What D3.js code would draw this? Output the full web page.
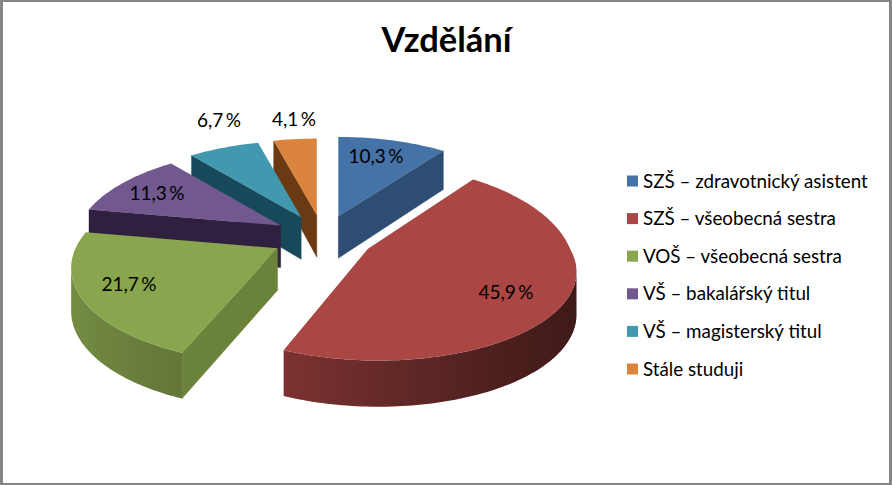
<!DOCTYPE html>
<html><head><meta charset="utf-8">
<style>html,body{margin:0;padding:0;background:#fff}svg{display:block}text{font-family:Lato,"Open Sans",sans-serif;fill:#000}</style>
<script src="https://cdn.jsdelivr.net/npm/d3@7/dist/d3.min.js"></script>
</head><body><svg id="c" width="892" height="485"></svg>
<script>
const title = "Vzdělání";
const categories = ["SZŠ – zdravotnický asistent","SZŠ – všeobecná sestra","VOŠ – všeobecná sestra","VŠ – bakalářský titul","VŠ – magisterský titul","Stále studuji"];
const values = [10.3,45.9,21.7,11.3,6.7,4.1];
const topColors = ["#4572a7","#aa4643","#89a54e","#71588f","#4198af","#db843d"];
const wallColors = ["#2e4d72","#5a2523","#6a8239","#30203f","#17495a","#6b3a12"];
const labelCenters = [[376,156],[506,292],[129,284],[157,193],[219,120],[294,119]];

const W=892,H=485, cx=323, cy=237, R=202, Ry=92, persp=.2, explode=.25, depth=42, shear=.167, nearShift=4.6, nearShear=.133, nearLift=.07;
const svg=d3.select("#c");
const defs=svg.append("defs");
svg.append("rect").attr("width",W).attr("height",H).attr("fill","#868686");
svg.append("rect").attr("x",3).attr("y",2).attr("width",W-6).attr("height",H-4).attr("fill","#fff");

const xs=d3.scaleLinear([-1,1],[-R,R]), ys=d3.scaleLinear([-1,1],[Ry,-Ry]);
const rimShade=d3.scaleLinear([-1,-.37,0,.5,1],[.86,.72,.6,.45,.35]);
const fmt=d3.formatLocale({decimal:",",thousands:" ",grouping:[3],currency:["",""]}).format(".1f");
const pie=d3.pie().sort(null).value(d=>d)(values);
const line=d3.line();

const proj=(a,r)=>{const u=Math.sin(a)*r,v=Math.cos(a)*r,s=1/(1+persp*v);return [xs(u*s),ys(v*s),v];};
const pt=(d,a,r,low)=>{
  const m=(d.startAngle+d.endAngle)/2, o=proj(m,explode), p=proj(a,r);
  const h=low?depth*(1-.1*Math.cos(a)*r):0;
  const near=Math.max(0,-p[2]), far=Math.max(0,p[2]), ox=Math.max(0,o[0]);
  const sx=(nearShift+nearShear*o[0])*near;
  const sy=shear*ox*far+nearLift*ox*near;
  return [cx+o[0]+p[0]+sx, cy+o[1]+p[1]+h-sy];
};
const area=q=>d3.polygonArea(q);
const order=pie.map((d,i)=>({d,i})).sort((a,b)=>Math.cos((b.d.startAngle+b.d.endAngle)/2)-Math.cos((a.d.startAngle+a.d.endAngle)/2));

order.forEach(({d,i})=>{
  const g=svg.append("g");
  const steps=d3.range(0,d.endAngle-d.startAngle,.02).map(t=>d.startAngle+t).concat([d.endAngle]);
  const wall=(a,flip)=>{
    const q=[pt(d,a,0),pt(d,a,1),pt(d,a,1,true),pt(d,a,0,true)];
    const sign=area(q)*(flip?-1:1);
    if(sign<0) g.append("path").attr("d",line(q)+"Z").attr("fill",wallColors[i]).attr("stroke",wallColors[i]).attr("stroke-width",.4);
  };
  wall(d.startAngle,true); wall(d.endAngle,false);
  const vis=d3.pairs(steps).filter(([a,b])=>area([pt(d,a,1),pt(d,b,1),pt(d,b,1,true),pt(d,a,1,true)])>0);
  if(vis.length){
    const angles=[vis[0][0],...vis.map(p=>p[1])];
    const upper=angles.map(a=>pt(d,a,1)), lower=angles.map(a=>pt(d,a,1,true)).reverse();
    const ext=d3.extent(upper,p=>p[0]);
    const off=d3.scaleLinear(ext,[0,1]);
    const grad=defs.append("linearGradient").attr("id","rim"+i).attr("gradientUnits","userSpaceOnUse")
      .attr("x1",ext[0]).attr("x2",ext[1]).attr("y1",0).attr("y2",0);
    const c=d3.rgb(topColors[i]);
    angles.map(a=>({o:off(pt(d,a,1)[0]),f:rimShade(Math.sin(a))})).sort((p,q)=>p.o-q.o).forEach(s=>{
      grad.append("stop").attr("offset",s.o).attr("stop-color",d3.rgb(c.r*s.f,c.g*s.f,c.b*s.f).formatHex());
    });
    g.append("path").attr("d",line(upper.concat(lower))+"Z").attr("fill",`url(#rim${i})`);
  }
  const top=[pt(d,d.startAngle,0),...steps.map(a=>pt(d,a,1))];
  g.append("path").attr("d",line(top)+"Z").attr("fill",topColors[i]);
});

pie.forEach((d,i)=>{
  svg.append("text").attr("x",labelCenters[i][0]).attr("y",labelCenters[i][1]+6.5)
    .attr("text-anchor","middle").attr("font-size",19).text(fmt(values[i])+"\u2009%");
});

svg.append("text").attr("x",446.5).attr("y",52).attr("text-anchor","middle").attr("font-size",34.5).attr("font-weight",700).text(title);

const ly=d3.scalePoint(categories,[181,369]);
categories.forEach((c,i)=>{
  svg.append("rect").attr("x",627).attr("y",ly(c)-5.5).attr("width",11).attr("height",11).attr("fill",topColors[i]);
  svg.append("text").attr("x",643).attr("y",ly(c)+6.5).attr("font-size",18.8).text(c);
});
</script></body></html>
